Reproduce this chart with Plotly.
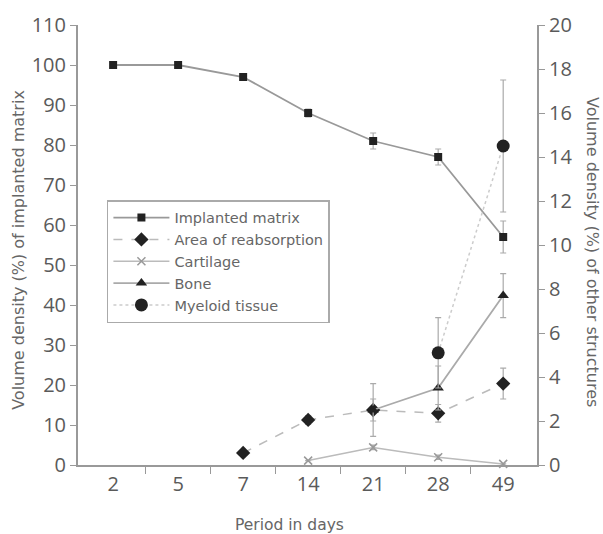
import plotly.graph_objects as go

days = ["2", "5", "7", "14", "21", "28", "49"]
pos = [0, 1, 2, 3, 4, 5, 6]

matrix = [100, 100, 97, 88, 81, 77, 57]
matrix_err = [0, 0, 0.8, 1, 2, 2, 4]

reab_x = [2, 3, 4, 5, 6]
reab = [0.55, 2.05, 2.5, 2.35, 3.7]
reab_err = [0, 0.2, 1.2, 0.4, 0.7]

cart_x = [3, 4, 5, 6]
cart = [0.2, 0.8, 0.35, 0.05]
cart_err = [0, 0.1, 0.1, 0]

bone_x = [4, 5, 6]
bone = [2.5, 3.5, 7.7]
bone_err = [0.5, 1.0, 1.0]

myel_x = [5, 6]
myel = [5.1, 14.5]
myel_err = [1.6, 3.0]

grey = "#666666"
tfam = "DejaVu Sans, sans-serif"
fig = go.Figure()

def eb(arr):
    return dict(type="data", array=arr, visible=True, color="#aaaaaa", thickness=1.2, width=3)

fig.add_trace(go.Scatter(x=pos, y=matrix, name="Implanted matrix", mode="lines+markers",
                         line=dict(color="#999999", width=1.8),
                         marker=dict(symbol="square", size=8, color="#222222"),
                         error_y=eb(matrix_err), cliponaxis=False))
fig.add_trace(go.Scatter(x=reab_x, y=reab, name="Area of reabsorption", mode="lines+markers",
                         yaxis="y2", line=dict(color="#bbbbbb", width=1.5, dash="dash"),
                         marker=dict(symbol="diamond", size=11, color="#222222"),
                         error_y=eb(reab_err), cliponaxis=False))
fig.add_trace(go.Scatter(x=cart_x, y=cart, name="Cartilage", mode="lines+markers",
                         yaxis="y2", line=dict(color="#bbbbbb", width=1.5),
                         marker=dict(symbol="x-thin", size=8, color="#999999", line=dict(width=1.5, color="#999999")),
                         error_y=eb(cart_err), cliponaxis=False))
fig.add_trace(go.Scatter(x=bone_x, y=bone, name="Bone", mode="lines+markers",
                         yaxis="y2", line=dict(color="#aaaaaa", width=1.8),
                         marker=dict(symbol="triangle-up", size=10, color="#222222"),
                         error_y=eb(bone_err), cliponaxis=False))
fig.add_trace(go.Scatter(x=myel_x, y=myel, name="Myeloid tissue", mode="lines+markers",
                         yaxis="y2", line=dict(color="#cccccc", width=1.5, dash="dot"),
                         marker=dict(symbol="circle", size=13, color="#222222"),
                         error_y=eb(myel_err), cliponaxis=False))

axfont = dict(family="Open Sans, DejaVu Sans, sans-serif", size=20, color="#5a5a5a")

fig.update_layout(
    width=603, height=534,
    margin=dict(l=78, r=66, t=25, b=69),
    plot_bgcolor="white", paper_bgcolor="white",
    showlegend=True,
    legend=dict(x=0.063, y=0.602, xanchor="left", yanchor="top",
                bordercolor="#aaaaaa", borderwidth=1.5, bgcolor="white",
                font=dict(family=tfam, size=14.5, color=grey),
                itemwidth=56, entrywidth=255, entrywidthmode="pixels"),
    xaxis=dict(range=[-0.54, 6.52], tickvals=pos, ticktext=days, ticks="",
               showline=True, linecolor="#999999", linewidth=2, showgrid=False, zeroline=False,
               tickfont=axfont,
               minor=dict(tickvals=[0.5, 1.5, 2.5, 3.5, 4.5, 5.5], ticks="outside",
                          ticklen=7, tickcolor="#999999", tickwidth=1.2)),
    yaxis=dict(range=[0, 110], dtick=10, ticks="outside", ticklen=6, tickcolor="#999999",
               showline=True, linecolor="#999999", linewidth=2, showgrid=False, zeroline=False,
               tickfont=axfont),
    yaxis2=dict(range=[0, 20], dtick=2, overlaying="y", side="right", ticks="outside",
                ticklen=6, tickcolor="#999999",
                showline=True, linecolor="#999999", linewidth=2, showgrid=False, zeroline=False,
                tickfont=axfont),
    annotations=[
        dict(text="Volume density (%) of implanted matrix", xref="paper", yref="paper",
             x=-0.1285, y=0.489, xanchor="center", yanchor="middle", textangle=-90, showarrow=False,
             font=dict(family=tfam, size=16, color=grey)),
        dict(text="Volume density (%) of other structures", xref="paper", yref="paper",
             x=1.122, y=0.484, xanchor="center", yanchor="middle", textangle=90, showarrow=False,
             font=dict(family=tfam, size=16, color=grey)),
        dict(text="Period in days", xref="paper", yref="paper",
             x=0.46, y=-0.136, xanchor="center", yanchor="middle", showarrow=False,
             font=dict(family=tfam, size=15.5, color=grey)),
    ],
)

fig.write_html("out.html", config={"displayModeBar": False},
               post_script="document.body.style.margin='0px';")
